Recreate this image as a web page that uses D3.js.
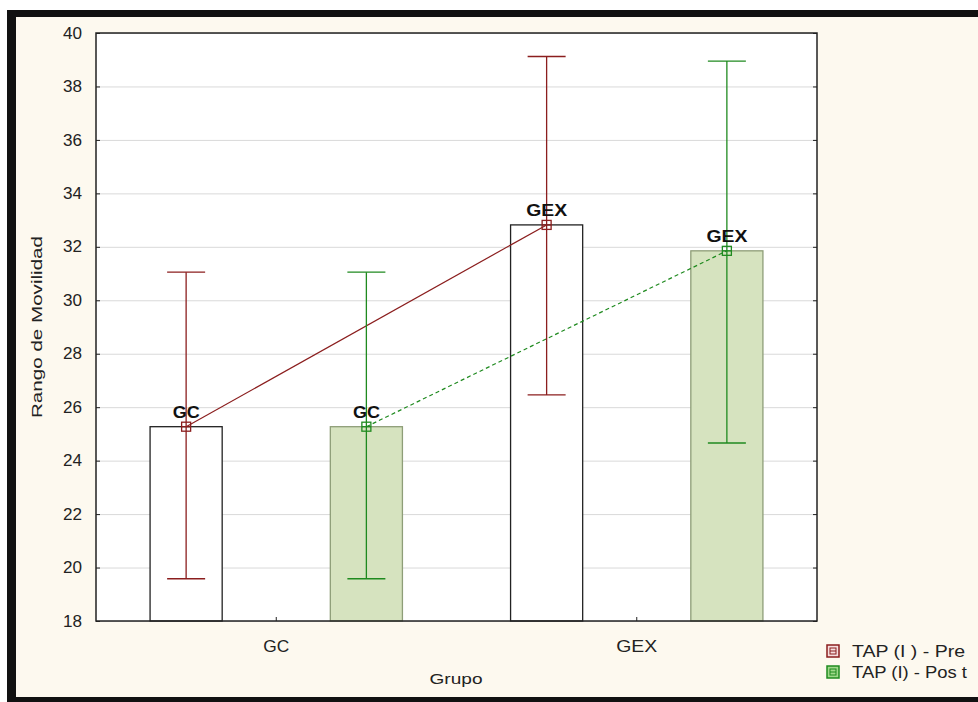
<!DOCTYPE html>
<html lang="es">
<head>
    <meta charset="UTF-8">
    <title>Rango de Movilidad</title>
    <script src="https://cdn.jsdelivr.net/npm/d3@7"></script>
    <style>
        body { margin: 0; background: #fff; }
        text { font-family: "Liberation Sans", Arial, sans-serif; fill: #222; }
        .axis path { display: none; }
        .axis line { stroke: #222; }
        .grid line { stroke: #d9d9d9; }
        .grid path { display: none; }
    </style>
</head>
<body>
    <script>
        // datos
        var groups = ["GC", "GEX"];
        var seriesKeys = ["pre", "post"];
        var seriesNames = ["TAP (I ) - Pre", "TAP (I) - Pos t"];
        var preMean = [25.27, 32.82];
        var preLow = [19.58, 26.46];
        var preHigh = [31.05, 39.12];
        var postMean = [25.27, 31.85];
        var postLow = [19.58, 24.66];
        var postHigh = [31.05, 38.95];
        var yTicks = [18, 20, 22, 24, 26, 28, 30, 32, 34, 36, 38, 40];

        var colors = { pre: "#8b1e1e", post: "#1f8a1f" };

        var rows = [];
        groups.forEach(function (g, i) {
            rows.push({ group: g, key: "pre", mean: preMean[i], low: preLow[i], high: preHigh[i] });
            rows.push({ group: g, key: "post", mean: postMean[i], low: postLow[i], high: postHigh[i] });
        });

        var W = 978, H = 702;
        var margin = { left: 96, top: 33 };
        var width = 721, height = 588;

        var svg = d3.select("body").append("svg")
            .attr("width", W)
            .attr("height", H);

        // marco y fondo
        svg.append("rect").attr("x", 7).attr("y", 10).attr("width", W - 7).attr("height", 692).attr("fill", "#111");
        svg.append("rect").attr("x", 16).attr("y", 17).attr("width", W - 16).attr("height", 680).attr("fill", "#fdf9ef");

        var g = svg.append("g").attr("transform", "translate(" + margin.left + "," + margin.top + ")");
        g.append("rect").attr("width", width).attr("height", height).attr("fill", "#fff");

        var y = d3.scaleLinear().domain([18, 40]).range([height, 0]);
        var xGroup = d3.scaleBand().domain(groups).range([0, width]);
        var xSub = d3.scaleBand().domain(seriesKeys).range([0, xGroup.bandwidth()]);
        var barW = xSub.bandwidth() * 0.4;
        function cx(d) { return xGroup(d.group) + xSub(d.key) + xSub.bandwidth() / 2; }

        // rejilla
        g.append("g").attr("class", "grid")
            .call(d3.axisLeft(y).tickValues(yTicks).tickSize(-width).tickFormat(""));

        // barras
        g.selectAll(".bar")
            .data(rows)
            .enter()
            .append("rect")
            .attr("class", "bar")
            .attr("x", function (d) { return cx(d) - barW / 2; })
            .attr("y", function (d) { return y(d.mean); })
            .attr("width", barW)
            .attr("height", function (d) { return height - y(d.mean); })
            .attr("fill", function (d) { return d.key == "pre" ? "#fff" : "#d6e3bf"; })
            .attr("stroke", function (d) { return d.key == "pre" ? "#222" : "#8e9e78"; })
            .attr("stroke-width", 1.3);

        // lineas de medias
        seriesKeys.forEach(function (k) {
            var pts = rows.filter(function (d) { return d.key == k; });
            g.append("path")
                .datum(pts)
                .attr("fill", "none")
                .attr("stroke", colors[k])
                .attr("stroke-width", 1.2)
                .attr("stroke-dasharray", k == "post" ? "4,3" : null)
                .attr("d", d3.line().x(cx).y(function (d) { return y(d.mean); }));
        });

        // barras de error
        var err = g.selectAll(".err")
            .data(rows)
            .enter()
            .append("g")
            .attr("class", "err")
            .attr("stroke", function (d) { return colors[d.key]; })
            .attr("stroke-width", 1.3);
        err.append("line")
            .attr("x1", cx).attr("x2", cx)
            .attr("y1", function (d) { return y(d.low); })
            .attr("y2", function (d) { return y(d.high); });
        err.append("line")
            .attr("x1", function (d) { return cx(d) - 19; })
            .attr("x2", function (d) { return cx(d) + 19; })
            .attr("y1", function (d) { return y(d.high); })
            .attr("y2", function (d) { return y(d.high); });
        err.append("line")
            .attr("x1", function (d) { return cx(d) - 19; })
            .attr("x2", function (d) { return cx(d) + 19; })
            .attr("y1", function (d) { return y(d.low); })
            .attr("y2", function (d) { return y(d.low); });

        // marcadores
        err.append("rect")
            .attr("x", function (d) { return cx(d) - 4.5; })
            .attr("y", function (d) { return y(d.mean) - 4.5; })
            .attr("width", 9).attr("height", 9)
            .attr("fill", "none");
        err.append("line")
            .attr("x1", function (d) { return cx(d) - 4.5; })
            .attr("x2", function (d) { return cx(d) + 4.5; })
            .attr("y1", function (d) { return y(d.mean); })
            .attr("y2", function (d) { return y(d.mean); });

        // etiquetas de punto
        g.selectAll(".plabel")
            .data(rows)
            .enter()
            .append("text")
            .attr("class", "plabel")
            .attr("x", cx)
            .attr("y", function (d) { return y(d.mean) - 9; })
            .attr("text-anchor", "middle")
            .attr("font-size", "17px")
            .attr("font-weight", "bold")
            .attr("textLength", function (d) { return d.group == "GC" ? 27 : 41; })
            .attr("lengthAdjust", "spacingAndGlyphs")
            .style("fill", "#111")
            .text(function (d) { return d.group; });

        // ejes
        var yAxis = g.append("g").attr("class", "axis")
            .call(d3.axisLeft(y).tickValues(yTicks).tickSize(-4).tickPadding(14));
        yAxis.selectAll("text")
            .attr("font-size", "16px")
            .attr("textLength", 19)
            .attr("lengthAdjust", "spacingAndGlyphs");
        g.append("g").attr("class", "axis")
            .attr("transform", "translate(" + width + ",0)")
            .call(d3.axisRight(y).tickValues(yTicks).tickSize(-4).tickFormat(""));
        var xAxis = g.append("g").attr("class", "axis")
            .attr("transform", "translate(0," + height + ")")
            .call(d3.axisBottom(xGroup).tickSize(-4).tickPadding(19));
        xAxis.selectAll("text")
            .attr("font-size", "17px")
            .attr("textLength", function (d) { return d == "GC" ? 26 : 41; })
            .attr("lengthAdjust", "spacingAndGlyphs");

        g.append("rect")
            .attr("width", width).attr("height", height)
            .attr("fill", "none").attr("stroke", "#222").attr("stroke-width", 1.5);

        // titulos
        svg.append("text")
            .attr("x", 456).attr("y", 684)
            .attr("text-anchor", "middle")
            .attr("font-size", "15px")
            .attr("textLength", 53)
            .attr("lengthAdjust", "spacingAndGlyphs")
            .text("Grupo");
        svg.append("text")
            .attr("transform", "translate(42,327) rotate(-90)")
            .attr("text-anchor", "middle")
            .attr("font-size", "15px")
            .attr("textLength", 182)
            .attr("lengthAdjust", "spacingAndGlyphs")
            .text("Rango de Movilidad");

        // leyenda
        var leg = svg.selectAll(".leg")
            .data(seriesKeys)
            .enter()
            .append("g")
            .attr("class", "leg")
            .attr("transform", function (d, i) { return "translate(827," + (645 + i * 21) + ")"; });
        leg.append("rect")
            .attr("width", 12).attr("height", 12)
            .attr("fill", function (d) { return d == "pre" ? "#f6dede" : "#9fd88a"; })
            .attr("stroke", function (d) { return colors[d]; })
            .attr("stroke-width", 1.5);
        leg.append("rect")
            .attr("x", 3).attr("y", 3).attr("width", 6).attr("height", 6)
            .attr("fill", "none")
            .attr("stroke", function (d) { return colors[d]; });
        leg.append("line")
            .attr("x1", 3).attr("x2", 9).attr("y1", 6).attr("y2", 6)
            .attr("stroke", function (d) { return colors[d]; });
        leg.append("text")
            .attr("x", 25).attr("y", 12)
            .attr("font-size", "16px")
            .attr("textLength", function (d) { return d == "pre" ? 113 : 115; })
            .attr("lengthAdjust", "spacingAndGlyphs")
            .text(function (d, i) { return seriesNames[i]; });
    </script>
</body>
</html>
